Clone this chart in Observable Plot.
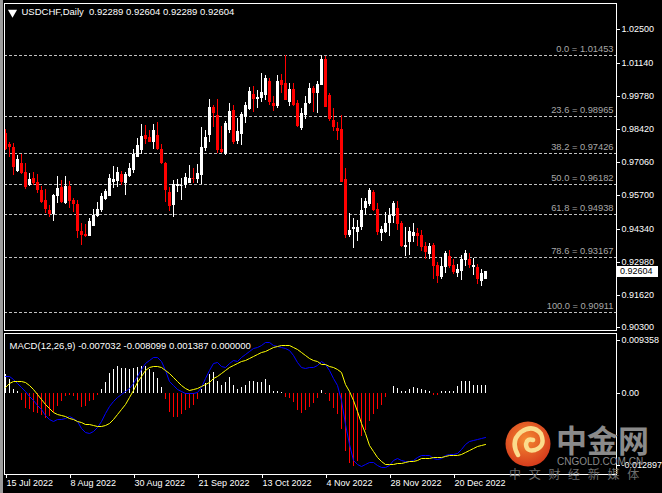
<!DOCTYPE html>
<html>
<head>
<meta charset="utf-8">
<script src="https://cdn.jsdelivr.net/npm/d3@7"></script>
<script src="https://cdn.jsdelivr.net/npm/@observablehq/plot@0.6"></script>
<style>
  html, body { margin: 0; padding: 0; background: #000; }
  #wrap { position: relative; width: 662px; height: 493px; background: #000; overflow: hidden; font-family: "Liberation Sans", Arial, sans-serif; }
  #wrap > * { position: absolute; }
</style>
</head>
<body>
<div id="wrap"></div>
<script>
// ---------- DATA ----------
const symbolTitle = "USDCHF,Daily\u00a0\u00a00.92289 0.92604 0.92289 0.92604";
const macdTitle = "MACD(12,26,9) -0.007032 -0.008099 0.001387 0.000000";

const openP = [0.98245,0.97794,0.97697,0.96712,0.97044,0.96659,0.96115,0.96402,0.96262,0.95922,
0.95512,0.95102,0.94939,0.95676,0.96057,0.95377,0.96086,0.95512,0.95348,0.94242,
0.94119,0.94037,0.94447,0.94857,0.95102,0.95541,0.95676,0.96262,0.96303,0.96577,
0.96197,0.96496,0.96741,0.97286,0.97561,0.98175,0.98081,0.97888,0.98175,0.97602,
0.97016,0.95852,0.95307,0.96086,0.96127,0.96127,0.96221,0.96402,0.96361,0.96537,
0.97631,0.98175,0.99310,0.98982,0.97590,0.97397,0.98380,0.99199,0.97941,0.98216,
0.98925,0.99227,0.99855,0.99663,0.99679,0.99814,1.00387,0.99498,0.99363,1.00428,
1.00318,0.99539,1.00048,0.99474,0.98450,0.98995,0.99498,1.00089,0.99908,1.00223,
1.01277,0.99814,0.98790,0.98474,0.98421,0.96373,0.94078,0.94324,0.94213,0.94418,
0.95170,0.95348,0.95852,0.95131,0.94172,0.94213,0.94582,0.94857,0.95170,0.94582,
0.93600,0.93804,0.94037,0.94172,0.94078,0.93628,0.93300,0.93668,0.92849,0.92345,
0.92781,0.93218,0.92849,0.92533,0.92615,0.93054,0.93083,0.92781,0.92754,0.92206,
0.92289];
const highP = [0.98421,0.97900,0.97835,0.97356,0.97397,0.97016,0.96606,0.96659,0.96577,0.96086,
0.95951,0.95307,0.95758,0.96496,0.96332,0.96496,0.96303,0.95582,0.95512,0.94557,
0.94529,0.94763,0.95131,0.95442,0.95811,0.95951,0.96577,0.96905,0.96876,0.96700,
0.96671,0.97044,0.97590,0.98040,0.98626,0.98585,0.98380,0.98626,0.98720,0.97806,
0.97081,0.96057,0.96332,0.96361,0.96402,0.96630,0.96946,0.96811,0.96987,0.98491,
0.98380,0.99638,0.99404,0.99638,0.98544,0.98761,0.99498,0.99404,0.98858,0.99130,
0.99539,1.00154,1.00183,1.00019,1.00727,1.00633,1.00523,0.99773,1.00633,1.00674,
1.01440,1.00293,1.00293,0.99609,0.99269,0.99773,1.00293,1.00183,1.00400,1.01453,
1.01412,0.99884,0.99269,0.98720,0.98995,0.96811,0.94967,0.94763,0.94693,0.95582,
0.95582,0.95992,0.95922,0.95377,0.94447,0.95033,0.95170,0.95483,0.95483,0.94664,
0.94418,0.94394,0.94582,0.94352,0.94283,0.93804,0.93738,0.93738,0.92984,0.93165,
0.93435,0.93464,0.93083,0.92890,0.93259,0.93464,0.93329,0.93124,0.92890,0.92673,
0.92604];
const lowP = [0.97561,0.97286,0.96537,0.96671,0.96577,0.95951,0.96086,0.96115,0.95811,0.95401,
0.94976,0.94796,0.94664,0.95401,0.95401,0.95348,0.95170,0.95033,0.93942,0.93668,
0.93980,0.94037,0.94447,0.94804,0.95033,0.95512,0.95676,0.95987,0.96057,0.96127,
0.95717,0.96442,0.96630,0.97262,0.97397,0.97806,0.97900,0.97590,0.97561,0.96987,
0.95442,0.95073,0.94804,0.95852,0.95512,0.95992,0.96221,0.96197,0.96197,0.96168,
0.97532,0.97900,0.98491,0.97450,0.97450,0.97356,0.98245,0.97806,0.97806,0.97765,
0.98679,0.99199,0.99130,0.99269,0.99539,0.99609,0.99404,0.99171,0.99269,0.99908,
0.99609,0.99363,0.99363,0.98491,0.98380,0.98818,0.99445,0.99130,0.99089,1.00223,
0.99310,0.98761,0.98351,0.97970,0.96262,0.93942,0.94009,0.93533,0.93845,0.94283,
0.94898,0.95266,0.95073,0.94078,0.93845,0.94172,0.94037,0.94557,0.94283,0.93600,
0.93218,0.93259,0.93804,0.93628,0.93435,0.93083,0.93083,0.92263,0.92124,0.92263,
0.92521,0.92714,0.92480,0.92369,0.92234,0.92808,0.92714,0.92439,0.92070,0.91988,
0.92289];
const closeP = [0.97590,0.97697,0.96852,0.97180,0.96630,0.96057,0.96373,0.96197,0.95922,0.95442,
0.95140,0.94939,0.95717,0.95992,0.95442,0.96086,0.95483,0.95348,0.94254,0.94078,
0.94037,0.94652,0.94898,0.95155,0.95676,0.95893,0.96402,0.96373,0.96659,0.96262,
0.96577,0.96823,0.97397,0.97765,0.98134,0.98007,0.97900,0.98380,0.97590,0.97016,
0.95922,0.95266,0.96168,0.96168,0.96140,0.96467,0.96402,0.96395,0.96606,0.97672,
0.98081,0.99310,0.99064,0.97561,0.97491,0.98679,0.99158,0.97900,0.98351,0.99035,
0.99404,0.99990,0.99638,0.99744,0.99949,1.00523,0.99539,0.99363,1.00387,1.00223,
0.99609,1.00048,0.99404,0.98544,0.99089,0.99498,1.00089,0.99908,1.00265,1.01277,
0.99310,0.98818,0.98491,0.98351,0.96262,0.94078,0.94283,0.94418,0.94418,0.95102,
0.95483,0.95922,0.95102,0.94213,0.94312,0.94557,0.94898,0.95401,0.94529,0.93628,
0.93668,0.94254,0.94213,0.94037,0.93600,0.93382,0.93628,0.92808,0.92398,0.92808,
0.93329,0.92808,0.92574,0.92673,0.93083,0.93329,0.92849,0.92849,0.92263,0.92521,
0.92604];

const macdMain = [0.00300,0.00283,0.00241,0.00171,0.00094,0.00018,-0.00053,-0.00141,-0.00218,-0.00300,
-0.00395,-0.00477,-0.00495,-0.00477,-0.00465,-0.00442,-0.00424,-0.00442,-0.00512,-0.00630,
-0.00701,-0.00713,-0.00683,-0.00613,-0.00495,-0.00359,-0.00241,-0.00159,-0.00082,-0.00024,
0.00018,0.00077,0.00171,0.00289,0.00418,0.00524,0.00583,0.00636,0.00624,0.00548,
0.00389,0.00212,0.00124,0.00065,0.00018,0.00000,-0.00006,-0.00006,0.00006,0.00094,
0.00253,0.00406,0.00524,0.00536,0.00465,0.00454,0.00524,0.00583,0.00565,0.00624,
0.00683,0.00742,0.00783,0.00801,0.00842,0.00901,0.00889,0.00848,0.00825,0.00807,
0.00783,0.00748,0.00666,0.00536,0.00459,0.00436,0.00448,0.00448,0.00489,0.00554,
0.00507,0.00406,0.00253,0.00135,-0.00141,-0.00554,-0.00907,-0.01184,-0.01266,-0.01290,
-0.01260,-0.01225,-0.01231,-0.01278,-0.01308,-0.01319,-0.01278,-0.01184,-0.01160,-0.01184,
-0.01207,-0.01219,-0.01184,-0.01143,-0.01113,-0.01096,-0.01113,-0.01154,-0.01172,-0.01149,
-0.01096,-0.01084,-0.01084,-0.01066,-0.01007,-0.00907,-0.00860,-0.00836,-0.00830,-0.00807,
-0.00795];
const macdSignal = [0.00094,0.00171,0.00206,0.00212,0.00206,0.00183,0.00135,0.00065,-0.00024,-0.00112,
-0.00200,-0.00277,-0.00336,-0.00377,-0.00406,-0.00424,-0.00442,-0.00465,-0.00495,-0.00524,
-0.00548,-0.00565,-0.00583,-0.00595,-0.00595,-0.00583,-0.00536,-0.00465,-0.00383,-0.00300,
-0.00200,-0.00082,0.00053,0.00183,0.00300,0.00406,0.00459,0.00477,0.00477,0.00448,
0.00401,0.00342,0.00271,0.00206,0.00141,0.00082,0.00053,0.00065,0.00077,0.00112,
0.00153,0.00194,0.00253,0.00300,0.00348,0.00395,0.00442,0.00489,0.00524,0.00554,
0.00583,0.00618,0.00642,0.00677,0.00713,0.00742,0.00772,0.00801,0.00830,0.00842,
0.00842,0.00836,0.00807,0.00760,0.00707,0.00660,0.00613,0.00577,0.00548,0.00512,
0.00501,0.00471,0.00442,0.00418,0.00359,0.00153,0.00018,-0.00130,-0.00330,-0.00536,
-0.00713,-0.00919,-0.01025,-0.01131,-0.01213,-0.01260,-0.01266,-0.01260,-0.01249,-0.01237,
-0.01225,-0.01213,-0.01202,-0.01184,-0.01166,-0.01154,-0.01149,-0.01143,-0.01143,-0.01131,
-0.01119,-0.01113,-0.01113,-0.01101,-0.01084,-0.01054,-0.01019,-0.00984,-0.00954,-0.00925,
-0.00907];
const macdHist = [0.00330,0.00241,0.00065,0.00018,-0.00124,-0.00277,-0.00300,-0.00336,-0.00359,-0.00406,
-0.00454,-0.00418,-0.00336,-0.00241,-0.00159,-0.00065,-0.00041,-0.00065,-0.00124,-0.00259,
-0.00230,-0.00159,-0.00141,-0.00041,0.00065,0.00194,0.00348,0.00418,0.00477,0.00430,
0.00430,0.00418,0.00430,0.00448,0.00477,0.00477,0.00418,0.00359,0.00253,0.00094,
-0.00112,-0.00348,-0.00436,-0.00436,-0.00377,-0.00318,-0.00277,-0.00218,-0.00112,0.00065,
0.00171,0.00330,0.00371,0.00212,0.00135,0.00183,0.00271,0.00135,0.00065,0.00094,
0.00124,0.00200,0.00212,0.00194,0.00183,0.00230,0.00124,0.00018,0.00018,0.00003,
-0.00071,-0.00100,-0.00171,-0.00318,-0.00359,-0.00318,-0.00259,-0.00188,-0.00100,0.00047,
-0.00029,-0.00153,-0.00277,-0.00377,-0.00642,-0.01025,-0.01243,-0.01290,-0.01202,-0.00760,
-0.00654,-0.00495,-0.00377,-0.00300,-0.00218,-0.00082,0.00000,0.00112,0.00082,0.00018,
0.00018,0.00065,0.00094,0.00082,0.00065,0.00047,0.00018,-0.00041,-0.00041,0.00018,
0.00018,0.00035,0.00035,0.00112,0.00200,0.00212,0.00200,0.00135,0.00124,0.00124,
0.00135];

const fibLevels = [1.01453, 0.98965, 0.97426, 0.96182, 0.94938, 0.93167, 0.90911];
const fibNames  = ["0.0", "23.6", "38.2", "50.0", "61.8", "78.6", "100.0"];
const priceTicks = [1.02500, 1.01140, 0.99780, 0.98420, 0.97060, 0.95700, 0.94340, 0.92980, 0.91620, 0.90300];
const lastPrice = 0.92604;
const macdTicks = [0.009358, 0, -0.012897];
const macdTickLabels = ["0.009358", "0.00", "-0.012897"];
const dateTicks = [0, 16, 32, 48, 64, 80, 96, 112];
const dateLabels = ["15 Jul 2022", "8 Aug 2022", "30 Aug 2022", "21 Sep 2022", "13 Oct 2022", "4 Nov 2022", "28 Nov 2022", "20 Dec 2022"];

// ---------- BUILD ----------
const candles = openP.map((o, i) => ({i, open: o, high: highP[i], low: lowP[i], close: closeP[i]}));
const macdRows = macdMain.map((m, i) => ({i, macd: m, signal: macdSignal[i], hist: macdHist[i]}));
const UP = "#ffffff", DOWN = "#ff0000";
const candleColor = d => d.close >= d.open ? UP : DOWN;
const FONT = "'Liberation Sans', Arial, sans-serif";
const xScale = {domain: [0, 120], range: [5, 485], label: null};

const wrap = document.getElementById("wrap");

const main = Plot.plot({
  width: 662, height: 331,
  marginLeft: 4, marginRight: 46, marginTop: 3, marginBottom: 1,
  style: {background: "#000", color: "#fff", fontFamily: FONT, fontSize: "9px"},
  x: {...xScale, axis: null},
  y: {domain: [0.90186, 1.03583], range: [330, 3], round: true, axis: null, label: null},
  marks: [
    Plot.ruleY(fibLevels, {stroke: "#c0c0c0", strokeDasharray: "3,2", strokeWidth: 1}),
    Plot.text(fibLevels, {y: d => d, text: (d, i) => `${fibNames[i]} = ${d.toFixed(5)}`,
      frameAnchor: "right", textAnchor: "end", dx: -3, dy: -6, fill: "#a8a8a8", fontSize: 9.3}),
    Plot.ruleX(candles, {x: "i", y1: "low", y2: "high", stroke: candleColor, strokeWidth: 1}),
    Plot.ruleX(candles, {x: "i", y1: "open", y2: "close", stroke: candleColor, strokeWidth: 3}),
    Plot.ruleY(candles.filter(d => Math.abs(d.close - d.open) < 0.0003),
      {y: "close", x1: d => d.i - 0.375, x2: d => d.i + 0.375, stroke: candleColor}),
    Plot.frame({stroke: "#fff"}),
    Plot.axisY(priceTicks, {anchor: "right", tickSize: 3, tickPadding: 2, label: null,
      tickFormat: d => d.toFixed(5), fontSize: 9, fill: "#fff", stroke: "#fff"}),
    Plot.dot([0], {frameAnchor: "top-left", dx: 8, dy: 9, symbol: "triangle", r: 3.4, rotate: 180, fill: "#fff", stroke: null}),
    Plot.text([symbolTitle], {frameAnchor: "top-left", lineAnchor: "top", textAnchor: "start",
      dx: 17, dy: 5, fill: "#fff", fontSize: 9.5})
  ]
});
main.style.left = "0px"; main.style.top = "0px";
wrap.appendChild(main);

const macd = Plot.plot({
  width: 662, height: 162,
  marginLeft: 4, marginRight: 46, marginTop: 2, marginBottom: 19,
  style: {background: "#000", color: "#fff", fontFamily: FONT, fontSize: "9px"},
  x: {...xScale, axis: null},
  y: {domain: [-0.014401, 0.010514], range: [143, 2], round: true, axis: null, label: null},
  marks: [
    Plot.ruleX(macdRows.filter(d => d.hist !== 0), {x: "i", y1: 0, y2: "hist",
      stroke: d => d.hist >= 0 ? UP : DOWN, strokeWidth: 1}),
    Plot.line(macdRows, {x: "i", y: "macd", stroke: "#0000ff", strokeWidth: 1}),
    Plot.line(macdRows, {x: "i", y: "signal", stroke: "#ffff00", strokeWidth: 1}),
    Plot.frame({stroke: "#fff"}),
    Plot.axisY(macdTicks, {anchor: "right", tickSize: 3, tickPadding: 2, label: null,
      tickFormat: d => macdTickLabels[macdTicks.indexOf(d)], fontSize: 9, fill: "#fff", stroke: "#fff"}),
    Plot.axisX(dateTicks, {anchor: "bottom", tickSize: 4, tickPadding: 1, textAnchor: "start", dx: 1, label: null,
      tickFormat: d => dateLabels[dateTicks.indexOf(d)], fontSize: 9, fill: "#fff", stroke: "#fff"}),
    Plot.text([macdTitle], {frameAnchor: "top-left", lineAnchor: "top", textAnchor: "start",
      dx: 5, dy: 9, fill: "#fff", fontSize: 9.5})
  ]
});
macd.style.left = "0px"; macd.style.top = "331px";
wrap.appendChild(macd);

// last price marker on the price axis (positioned through the y scale)
const yMain = main.scale("y");
const py = yMain.apply(lastPrice);
const box = document.createElement("div");
box.textContent = lastPrice.toFixed(5);
Object.assign(box.style, {left: "617px", top: (py - 5.5) + "px", width: "41px", height: "11px",
  background: "#fff", color: "#000", fontSize: "9px", lineHeight: "11px", paddingLeft: "3px",
  boxSizing: "border-box", fontFamily: FONT});
wrap.appendChild(box);

// left window edge
const edge = document.createElement("div");
Object.assign(edge.style, {left: "0px", top: "0px", width: "3px", height: "493px", background: "#9c9c9c"});
wrap.appendChild(edge);

// watermark
const ns = "http://www.w3.org/2000/svg";
const wm = document.createElementNS(ns, "svg");
wm.setAttribute("width", "662"); wm.setAttribute("height", "493");
wm.style.left = "0px"; wm.style.top = "0px"; wm.style.pointerEvents = "none";
wm.innerHTML = `
<defs><radialGradient id="lg" cx="45%" cy="40%" r="60%">
<stop offset="0" stop-color="#f58a32"/><stop offset="1" stop-color="#d63c1c"/></radialGradient></defs>
<circle cx="528" cy="444" r="22.5" fill="url(#lg)"/>
<path d="M518 455 Q510 441 521 432 Q533 424 541 434 Q546 446 535 450 Q526 452 526 444 Q527 438 533 440"
 fill="none" stroke="#fbdc8c" stroke-width="4.5" stroke-linecap="round"/>
<text x="556" y="452" font-family="'Noto Sans CJK SC'" font-weight="bold" font-size="31" fill="#8a8a8a">中金网</text>
<text x="557" y="465" font-family="${FONT}" font-size="10" fill="#8a8a8a">CNGOLD.COM.CN</text>
<text x="509" y="479" font-family="'Noto Sans CJK SC'" font-size="12" letter-spacing="7.7" fill="#6e6e6e">中文财经新媒体</text>`;
wrap.appendChild(wm);
</script>
</body>
</html>
